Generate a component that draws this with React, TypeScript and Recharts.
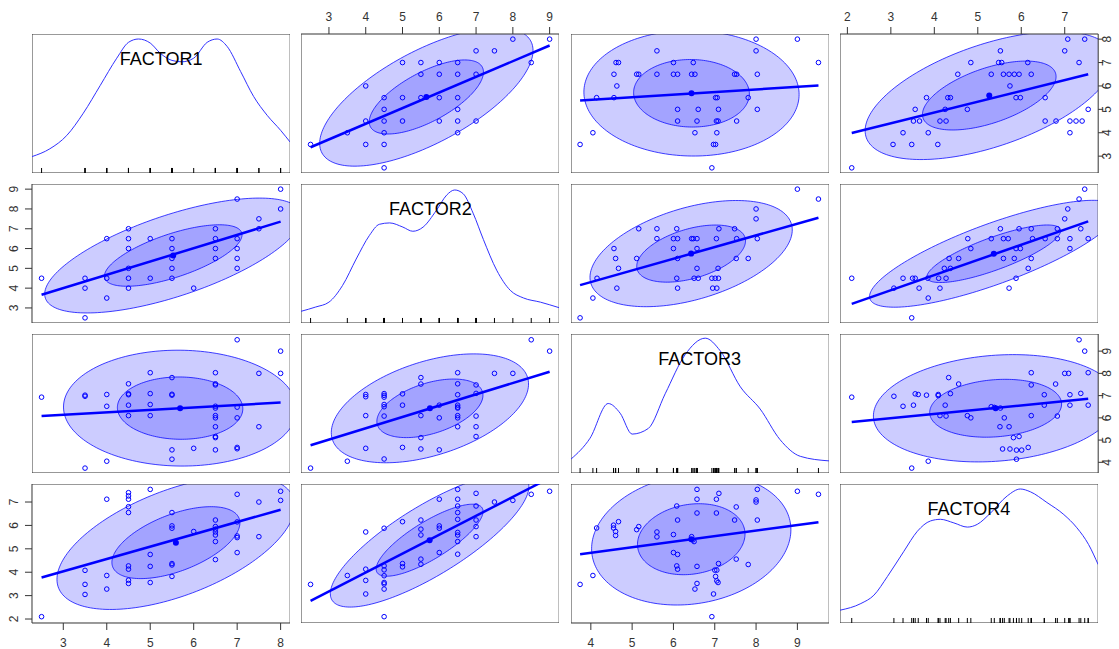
import React from "react";
import {
  Area,
  ComposedChart,
  Line,
  ReferenceArea,
  Scatter,
  XAxis,
  YAxis,
} from "recharts";

const FONT = '"Liberation Sans", Arial, sans-serif';
const BLUE = "#0000ff";

const VARIABLES = ["FACTOR1", "FACTOR2", "FACTOR3", "FACTOR4"];
const LIMITS: [number, number][] = [
  [2.28, 8.22],
  [2.24, 9.26],
  [3.52, 9.77],
  [1.83, 7.77],
];
const TICKS = [
  [3, 4, 5, 6, 7, 8],
  [3, 4, 5, 6, 7, 8, 9],
  [4, 5, 6, 7, 8, 9],
  [2, 3, 4, 5, 6, 7],
];
const LEVELS = [0.9, 0.5];

// observations read per pair: [lower factor, higher factor]
const F1_F2: [number, number][] = [
  [2.5, 4.5], [3.5, 4.5], [3.5, 4], [3.5, 2.5], [4, 6.5], [4, 4.5], [4, 3.5],
  [4.5, 7], [4.5, 6.5], [4.5, 6], [4.5, 5], [4.5, 4.5], [4.5, 4], [5, 6.5],
  [5, 4.5], [5.5, 6.5], [5.5, 6], [5.5, 5.5], [5.5, 5], [5.5, 4.5], [6, 4],
  [6.5, 7], [6.5, 6.5], [6.5, 6], [6.5, 5.5], [7, 8.5], [7, 6.5], [7, 6],
  [7, 5.5], [7, 5], [7.5, 7.5], [7.5, 7], [8, 9], [8, 8],
];
const F1_F3: [number, number][] = [
  [3.5, 3.74], [4, 4.05], [5.5, 4.14], [5.5, 4.56], [6, 4.63], [6.5, 4.56],
  [7, 4.61], [7, 4.67], [6.5, 5.11], [6.5, 5.16], [7.5, 5.6], [6.5, 5.6],
  [7, 6.0], [6.5, 6.0], [6.5, 6.1], [7, 6.48], [6.5, 6.44], [6.5, 6.52],
  [5, 6.1], [4.5, 6.1], [5, 6.6], [4.5, 6.57], [4, 6.52], [5.5, 7.02],
  [5.5, 7.06], [5, 7.09], [4.5, 7.04], [4.5, 7.08], [4, 7.05], [3.5, 6.97],
  [3.5, 7.02], [2.5, 6.93], [6.5, 7.48], [6.5, 7.53], [4.5, 7.53], [5.5, 7.81],
  [5, 8.03], [6.5, 8.03], [7.5, 8.0], [8, 8.0], [8, 9.0], [7, 9.51],
];
const F1_F4: [number, number][] = [
  [2.5, 2.1], [3.5, 4.08], [3.5, 3.48], [3.5, 3.05], [4, 7.12], [4, 3.86],
  [4, 3.28], [4.5, 7.4], [4.5, 7.26], [4.5, 7.12], [4.5, 6.8], [4.5, 6.55],
  [4.5, 4.27], [4.5, 4.13], [4.5, 3.66], [4.5, 3.52], [5, 7.54], [5, 4.76],
  [5, 4.25], [5, 3.56], [5.5, 6.55], [5.5, 5.98], [5.5, 5.88], [5.5, 4.37],
  [5.5, 4.31], [5.5, 3.82], [6, 5.74], [6.5, 6.23], [6.5, 5.95], [6.5, 5.84],
  [6.5, 5.72], [6.5, 5.59], [6.5, 5.31], [6.5, 4.54], [7, 7.33], [7, 6.15],
  [7, 5.55], [7, 5.48], [7, 4.84], [7.5, 7.0], [7.5, 5.52], [8, 7.46], [8, 7.07],
];
const F2_F3: [number, number][] = [
  [2.5, 3.74], [3.5, 4.05], [4, 4.63], [4.5, 4.15], [5, 4.67], [6, 4.56],
  [5.5, 4.6], [5.5, 5.11], [7, 5.16], [7, 5.6], [6.5, 5.6], [6.5, 6.0],
  [6.5, 6.1], [7, 6.08], [6, 6.0], [5.5, 6.1], [4.5, 6.08], [4, 6.1],
  [6.5, 6.44], [6.5, 6.48], [6.5, 6.57], [6, 6.57], [5, 6.57], [4.5, 6.5],
  [4.5, 6.6], [6.5, 7.04], [7, 7.1], [5, 7.08], [4.5, 6.93], [4.5, 7.01],
  [4.5, 7.09], [4, 6.95], [4, 7.05], [7, 7.48], [6.5, 7.53], [5.5, 7.52],
  [5.5, 7.81], [6.5, 8.03], [7.5, 8.0], [8, 8.0], [9, 9.0], [8.5, 9.51],
];
const F2_F4: [number, number][] = [
  [2.5, 3.48], [3.5, 3.86], [4, 5.72], [4, 4.13], [4, 3.65], [4, 3.07],
  [4.5, 5.88], [4.5, 2.1], [4.5, 4.27], [4.5, 4.1], [4.5, 3.85], [4.5, 3.56],
  [4.5, 3.5], [4.5, 3.28], [5, 6.16], [5, 4.37], [5, 4.23], [5.5, 6.23],
  [5.5, 5.84], [5.5, 5.59], [5.5, 4.56], [5.5, 4.34], [6, 7.12], [6, 5.98],
  [6, 5.88], [6, 4.84], [6.5, 7.54], [6.5, 7.12], [6.5, 6.83], [6.5, 6.55],
  [6.5, 6.26], [6.5, 5.7], [6.5, 5.59], [6.5, 5.31], [6.5, 4.77], [7, 7.37],
  [7, 6.83], [7, 6.23], [7, 5.95], [7, 5.52], [7.5, 7.0], [8, 7.07],
  [8.5, 7.33], [9, 7.46],
];
const F3_F4: [number, number][] = [
  [3.74, 3.48], [4.05, 3.86], [4.14, 5.89], [4.55, 6.01], [4.55, 5.89],
  [4.6, 5.74], [4.6, 5.57], [4.67, 6.16], [5.11, 5.82], [5.16, 5.95],
  [5.6, 5.72], [5.6, 5.51], [6.0, 5.61], [6.0, 4.84], [6.1, 4.76], [6.08, 6.83],
  [6.1, 6.23], [6.08, 4.27], [6.1, 4.13], [6.44, 5.52], [6.47, 5.38],
  [6.5, 5.31], [6.57, 4.25], [6.57, 7.54], [6.57, 7.12], [6.57, 6.53],
  [6.57, 3.52], [6.52, 3.28], [7.04, 7.12], [7.1, 7.37], [7.04, 6.53],
  [7.09, 4.37], [7.0, 4.09], [7.05, 4.09], [7.02, 3.82], [7.05, 3.63],
  [7.08, 3.56], [6.97, 3.07], [6.93, 2.1], [7.48, 6.23], [7.52, 6.79],
  [7.52, 4.56], [7.81, 4.33], [8.03, 7.54], [8.0, 7.09], [8.0, 7.0],
  [8.03, 6.23], [9.0, 7.46], [9.51, 7.33],
];

const PAIRS: Record<string, [number, number][]> = {
  "0-1": F1_F2,
  "0-2": F1_F3,
  "0-3": F1_F4,
  "1-2": F2_F3,
  "1-3": F2_F4,
  "2-3": F3_F4,
};

// kernel density curves, height as a share of the panel
const DENSITY_F1: [number, number][] = [
  [2.28, 0.118], [2.69, 0.174], [3.08, 0.27], [3.46, 0.43], [3.85, 0.63],
  [4.23, 0.826], [4.5, 0.94], [4.73, 0.964], [5.0, 0.935], [5.23, 0.862],
  [5.5, 0.81], [5.73, 0.8], [6.0, 0.826], [6.31, 0.94], [6.54, 0.964],
  [6.77, 0.91], [7.08, 0.73], [7.38, 0.55], [7.69, 0.415], [8.0, 0.307],
  [8.22, 0.222],
];
const DENSITY_F2: [number, number][] = [
  [2.24, 0.084], [2.64, 0.115], [3.0, 0.15], [3.37, 0.27], [3.74, 0.46],
  [4.1, 0.63], [4.37, 0.71], [4.65, 0.72], [5.01, 0.69], [5.28, 0.66],
  [5.56, 0.69], [5.92, 0.81], [6.2, 0.92], [6.42, 0.957], [6.65, 0.93],
  [6.92, 0.79], [7.2, 0.6], [7.56, 0.38], [7.93, 0.235], [8.29, 0.18],
  [8.75, 0.15], [9.26, 0.11],
];
const DENSITY_F3: [number, number][] = [
  [3.52, 0.1], [3.98, 0.25], [4.42, 0.5], [4.71, 0.43], [5.0, 0.28],
  [5.39, 0.32], [5.8, 0.57], [6.28, 0.85], [6.77, 0.97], [7.13, 0.88],
  [7.62, 0.62], [8.1, 0.46], [8.58, 0.24], [9.07, 0.12], [9.77, 0.087],
];
const DENSITY_F4: [number, number][] = [
  [1.83, 0.092], [2.31, 0.14], [2.61, 0.2], [2.92, 0.334], [3.3, 0.516],
  [3.61, 0.66], [3.91, 0.734], [4.14, 0.746], [4.45, 0.72], [4.76, 0.69],
  [4.99, 0.71], [5.29, 0.79], [5.68, 0.915], [5.98, 0.964], [6.21, 0.944],
  [6.59, 0.867], [6.98, 0.78], [7.28, 0.685], [7.55, 0.564], [7.77, 0.42],
];
const DENSITIES = [DENSITY_F1, DENSITY_F2, DENSITY_F3, DENSITY_F4];
const RUGS = [
  F1_F4.map((p) => p[0]),
  F2_F4.map((p) => p[0]),
  F3_F4.map((p) => p[0]),
  F3_F4.map((p) => p[1]),
];

const COL_X = [32, 301.3, 570.5, 839.8];
const ROW_Y = [34, 184, 334, 484];
const PW = 258.2;
const PH = 139;
const TOP_AXIS = 34;
const BOTTOM_AXIS = 26;
const LEFT_AXIS = 32;
const RIGHT_AXIS = 21;

type Pt = { x: number; y: number };

/** Multivariate-t (nu = 5) location and scatter, like MASS::cov.trob. */
function robustShape(pts: Pt[]) {
  const n = pts.length;
  const nu = 5;
  let w = pts.map(() => 1);
  let mx = pts.reduce((s, p) => s + p.x, 0) / n;
  let my = pts.reduce((s, p) => s + p.y, 0) / n;
  let cxx = 0;
  let cyy = 0;
  let cxy = 0;
  for (let it = 0; it < 200; it++) {
    const sw = w.reduce((s, v) => s + v, 0);
    cxx = 0;
    cyy = 0;
    cxy = 0;
    pts.forEach((p, k) => {
      const dx = p.x - mx;
      const dy = p.y - my;
      cxx += (w[k] * dx * dx) / sw;
      cyy += (w[k] * dy * dy) / sw;
      cxy += (w[k] * dx * dy) / sw;
    });
    const det = cxx * cyy - cxy * cxy;
    const next = pts.map((p) => {
      const dx = p.x - mx;
      const dy = p.y - my;
      const q = (cyy * dx * dx - 2 * cxy * dx * dy + cxx * dy * dy) / det;
      return (nu + 2) / (nu + q);
    });
    const change = Math.max(...next.map((v, k) => Math.abs(v - w[k])));
    w = next;
    const tw = w.reduce((s, v) => s + v, 0);
    mx = pts.reduce((s, p, k) => s + w[k] * p.x, 0) / tw;
    my = pts.reduce((s, p, k) => s + w[k] * p.y, 0) / tw;
    if (change < 1e-6) break;
  }
  cxx = 0;
  cyy = 0;
  cxy = 0;
  pts.forEach((p, k) => {
    const dx = p.x - mx;
    const dy = p.y - my;
    cxx += (w[k] * dx * dx) / n;
    cyy += (w[k] * dy * dy) / n;
    cxy += (w[k] * dx * dy) / n;
  });
  return { n, mx, my, sxx: cxx, syy: cyy, sxy: cxy };
}

/** Data ellipse as a range area: x runs across, r holds [lower, upper]. */
function ellipse(m: ReturnType<typeof robustShape>, level: number) {
  const df = m.n - 1;
  // F(2, df) quantile has a closed form
  const radius = Math.sqrt(2 * (df / 2) * (Math.pow(1 - level, -2 / df) - 1));
  const a = Math.sqrt(m.sxx);
  const b = m.sxy / a;
  const d = Math.sqrt(Math.max(m.syy - b * b, 0));
  const steps = 90;
  return Array.from({ length: steps + 1 }, (_, k) => {
    const t = (Math.PI * k) / steps;
    const cos = Math.cos(t);
    const sin = Math.sin(t);
    return {
      x: m.mx + radius * a * cos,
      r: [m.my + radius * (b * cos - d * sin), m.my + radius * (b * cos + d * sin)],
    };
  });
}

function OpenCircle(props: any) {
  return <circle cx={props.cx} cy={props.cy} r={2.3} fill="none" stroke={BLUE} strokeWidth={1} />;
}

function CenterDot(props: any) {
  return <circle cx={props.cx} cy={props.cy} r={3} fill={BLUE} />;
}

function RugTick(props: any) {
  return <line x1={props.cx} x2={props.cx} y1={props.cy} y2={props.cy - 5} stroke="#000" strokeWidth={1} />;
}

function RotatedTick(props: any) {
  const { x, y, payload } = props;
  return (
    <text
      x={x}
      y={y}
      transform={`rotate(-90 ${x} ${y})`}
      textAnchor="middle"
      fontSize={12}
      fontFamily={FONT}
      fill="#333"
    >
      {payload.value}
    </text>
  );
}

function Panel({ r, c }: { r: number; c: number }) {
  const hasTop = r === 0 && c % 2 === 1;
  const hasBottom = r === 3 && c % 2 === 0;
  const hasLeft = c === 0 && r % 2 === 1;
  const hasRight = c === 3 && r % 2 === 0;
  const width = PW + (hasLeft ? LEFT_AXIS : 0) + (hasRight ? RIGHT_AXIS : 0);
  const height = PH + (hasTop ? TOP_AXIS : 0) + (hasBottom ? BOTTOM_AXIS : 0);
  const left = COL_X[c] - (hasLeft ? LEFT_AXIS : 0);
  const top = ROW_Y[r] - (hasTop ? TOP_AXIS : 0);
  const diag = r === c;
  const yDomain: [number, number] = diag ? [0, 1] : LIMITS[r];

  let body: React.ReactNode[] = [];
  if (diag) {
    const curve = DENSITIES[c].map(([x, y]) => ({ x, y }));
    const rug = RUGS[c].map((x) => ({ x, y: 0 }));
    body = [
      <Line key="dens" data={curve} dataKey="y" type="monotone" stroke="#3030ff" strokeWidth={1} dot={false} activeDot={false} isAnimationActive={false} />,
      <Scatter key="rug" data={rug} shape={RugTick} isAnimationActive={false} />,
    ];
  } else {
    const i = Math.min(r, c);
    const j = Math.max(r, c);
    const raw = PAIRS[`${i}-${j}`];
    const pts: Pt[] = raw.map(([a, b]) => (c === i ? { x: a, y: b } : { x: b, y: a }));
    // least-squares line over the observed x range
    const n = pts.length;
    const mx = pts.reduce((s, p) => s + p.x, 0) / n;
    const my = pts.reduce((s, p) => s + p.y, 0) / n;
    const sxy = pts.reduce((s, p) => s + (p.x - mx) * (p.y - my), 0);
    const sxx = pts.reduce((s, p) => s + (p.x - mx) ** 2, 0);
    const xs = pts.map((p) => p.x);
    const reg = [Math.min(...xs), Math.max(...xs)].map((x) => ({ x, y: my + (sxy / sxx) * (x - mx) }));
    const shape = robustShape(pts);
    body = [
      ...LEVELS.map((lv) => (
        <Area key={`e${lv}`} data={ellipse(shape, lv)} dataKey="r" type="linear" fill={BLUE} fillOpacity={0.2} stroke={BLUE} strokeOpacity={0.75} strokeWidth={1} dot={false} activeDot={false} isAnimationActive={false} />
      )),
      <Scatter key="pts" data={pts} shape={OpenCircle} isAnimationActive={false} />,
      <Line key="reg" data={reg} dataKey="y" type="linear" stroke={BLUE} strokeWidth={2.5} dot={false} activeDot={false} isAnimationActive={false} />,
      <Scatter key="ctr" data={[{ x: shape.mx, y: shape.my }]} shape={CenterDot} isAnimationActive={false} />,
    ];
  }

  return (
    <div style={{ position: "absolute", left, top, width, height }}>
      <ComposedChart width={width} height={height} margin={{ top: 0, right: 0, bottom: 0, left: 0 }}>
        <XAxis
          type="number"
          dataKey="x"
          domain={LIMITS[c]}
          allowDataOverflow
          hide={!hasTop && !hasBottom}
          orientation={hasTop ? "top" : "bottom"}
          height={hasTop ? TOP_AXIS : BOTTOM_AXIS}
          ticks={TICKS[c]}
          interval={0}
          axisLine={false}
          tickSize={7}
          tickMargin={hasTop ? 6 : 8}
          tick={{ fontSize: 12, fill: "#333", fontFamily: FONT }}
          tickLine={{ stroke: "#333" }}
        />
        <YAxis
          type="number"
          dataKey="y"
          domain={yDomain}
          allowDataOverflow
          hide={!hasLeft && !hasRight}
          orientation={hasRight ? "right" : "left"}
          width={hasRight ? RIGHT_AXIS : LEFT_AXIS}
          ticks={TICKS[r]}
          interval={0}
          axisLine={false}
          tickSize={hasRight ? 5 : 7}
          tickMargin={hasRight ? 8 : 7}
          tick={(p: any) => <RotatedTick {...p} />}
          tickLine={{ stroke: "#333" }}
        />
        {body}
        <ReferenceArea
          x1={LIMITS[c][0]}
          x2={LIMITS[c][1]}
          y1={yDomain[0]}
          y2={yDomain[1]}
          fill="none"
          stroke="#333"
          strokeWidth={1}
          ifOverflow="visible"
        />
      </ComposedChart>
      {diag && (
        <div
          style={{
            position: "absolute",
            left: 0,
            width: PW,
            top: 14,
            textAlign: "center",
            fontFamily: FONT,
            fontSize: 18,
            lineHeight: "22px",
            color: "#000",
          }}
        >
          {VARIABLES[c]}
        </div>
      )}
    </div>
  );
}

export default function App() {
  const cells = [];
  for (let r = 0; r < 4; r++) {
    for (let c = 0; c < 4; c++) cells.push(<Panel key={`${r}-${c}`} r={r} c={c} />);
  }
  return (
    <div style={{ position: "absolute", left: 0, top: 0, width: 1119, height: 649, background: "#fff", overflow: "hidden" }}>
      {cells}
    </div>
  );
}
